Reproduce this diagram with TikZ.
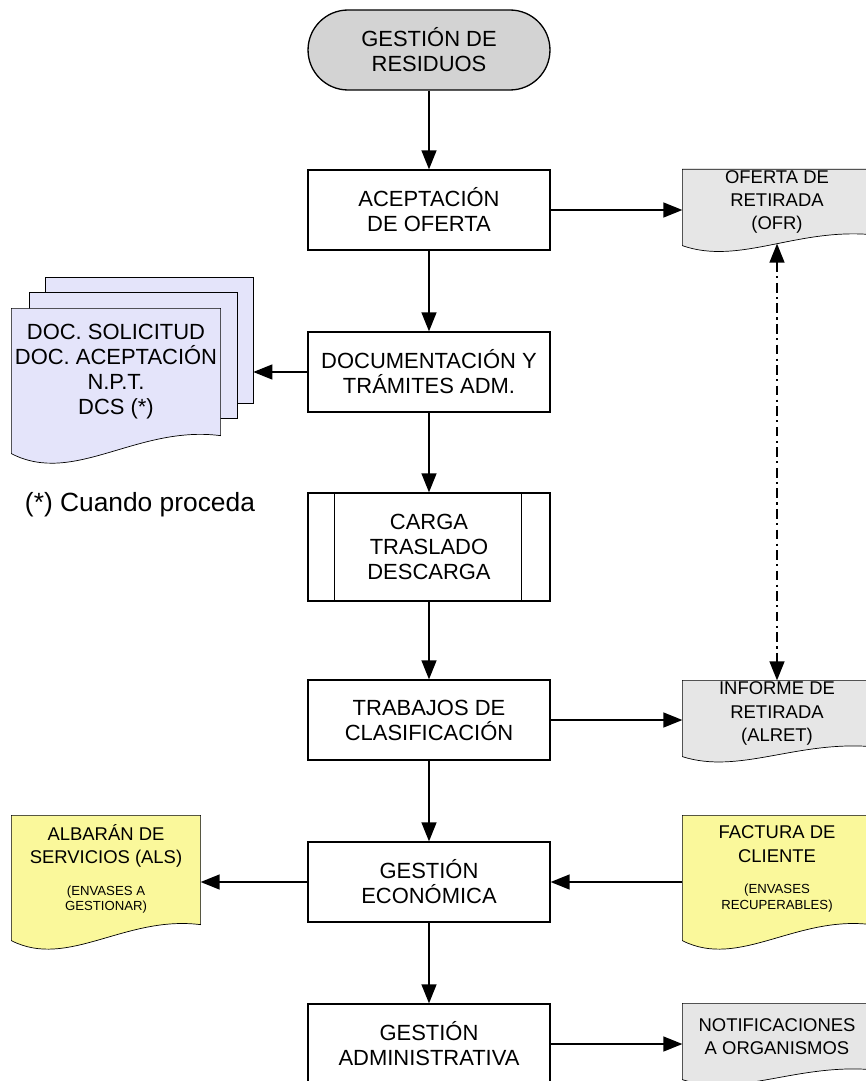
\documentclass[tikz,border=0pt]{standalone}
\usepackage{fontspec}
\setmainfont{Liberation Sans}
\usetikzlibrary{arrows.meta,calc,backgrounds,positioning}

\definecolor{termgray}{RGB}{211,211,211}
\definecolor{docgray}{RGB}{230,230,230}
\definecolor{doclav}{RGB}{228,228,250}
\definecolor{docyel}{RGB}{250,248,155}

% wavy document outline round a node, #2 = depth of the wave
\newcommand{\docoutline}[3]{%
	\draw[fill=#3] (#1.north west) -- (#1.north east) -- (#1.south east)
		.. controls ($(#1.south west)!0.6!(#1.south east)+(0,-0.6*#2)$)
		and ($(#1.south west)!0.3!(#1.south east)+(0,2.8*#2)$) .. ($(#1.south west)+(0,#2)$)
		-- cycle;}
% small lines inside a document
\newcommand{\smalllines}[1]{{\fontsize{7.5}{9}\selectfont\begin{tabular}{@{}c@{}}#1\end{tabular}}}

\begin{document}
\begin{tikzpicture}[x=0.02cm,y=-0.02cm,line width=0.75pt,
		every node/.style={font=\fontsize{12.5}{14.2}\selectfont, align=center, inner sep=0pt},
		flowbox/.style={draw, fill=white, minimum width=4.84cm, minimum height=1.6cm},
		doc/.style={minimum width=3.76cm, font=\fontsize{10.5}{13.3}\selectfont},
		page/.style={draw, fill=doclav, minimum width=4.16cm, minimum height=2.52cm},
		arr/.style={-{Triangle[length=0.38cm,width=0.3cm]}},
		dashdot/.style={{Triangle[length=0.38cm,width=0.3cm]}-{Triangle[length=0.38cm,width=0.3cm]},
			dash pattern=on 5.5pt off 2.5pt on 1.2pt off 2.5pt}]
	\useasboundingbox (0,0) rectangle (865,1081);
	\clip (0,0) rectangle (865,1081);

	% main column
	\node[flowbox, fill=termgray, rounded corners=0.8cm] (inicio) at (429,50) {GESTIÓN DE\\RESIDUOS};
	\node[flowbox] (oferta) at (429,210) {ACEPTACIÓN\\DE OFERTA};
	\node[flowbox] (docum) at (429,372) {DOCUMENTACIÓN Y\\TRÁMITES ADM.};
	\node[flowbox, minimum height=2.16cm] (carga) at (429,547) {CARGA\\TRASLADO\\DESCARGA};
	\draw ([xshift=0.54cm]carga.north west) -- ([xshift=0.54cm]carga.south west)
		([xshift=-0.58cm]carga.north east) -- ([xshift=-0.58cm]carga.south east);
	\node[flowbox] (clasif) at (429,720) {TRABAJOS DE\\CLASIFICACIÓN};
	\node[flowbox] (econ) at (429,882) {GESTIÓN\\ECONÓMICA};
	\node[flowbox] (admin) at (429,1044) {GESTIÓN\\ADMINISTRATIVA};

	% documents
	\node[doc, minimum height=1.28cm] (ofr) at (777,202) {OFERTA DE\\RETIRADA\\(OFR)};
	\node[doc, minimum height=1.3cm] (informe) at (777,713.5) {INFORME DE\\RETIRADA\\(ALRET)};
	\node[doc, minimum height=2.16cm] (albaran) at (106,870)
		{ALBARÁN DE\\SERVICIOS (ALS)\\[9pt]\smalllines{(ENVASES A\\GESTIONAR)}};
	\node[doc, minimum height=2.16cm] (factura) at (777,870)
		{FACTURA DE\\CLIENTE\\[9pt]\smalllines{(ENVASES\\RECUPERABLES)}};
	\node[doc, minimum height=1.3cm] (notif) at (777,1036.5) {NOTIFICACIONES\\A ORGANISMOS};
	\node[minimum width=4.16cm, minimum height=2.52cm] (docsfront) at (116,372)
		{DOC. SOLICITUD\\DOC. ACEPTACIÓN\\N.P.T.\\DCS (*)};
	\node[font=\fontsize{15}{18}\selectfont] (nota) at (140,505) {(*) Cuando proceda};

	\begin{scope}[on background layer]
		\node[page] (docsback) at (149,340.5) {};
		\node[page] (docsmid) at (133,355.5) {};
		\docoutline{docsfront}{18}{doclav}
		\docoutline{ofr}{11}{docgray}
		\docoutline{informe}{10}{docgray}
		\docoutline{albaran}{16}{docyel}
		\docoutline{factura}{16}{docyel}
		\docoutline{notif}{10}{docgray}
	\end{scope}

	% connectors
	\draw[arr] (inicio) -- (oferta);
	\draw[arr] (oferta) -- (docum);
	\draw[arr] (docum) -- (carga);
	\draw[arr] (carga) -- (clasif);
	\draw[arr] (clasif) -- (econ);
	\draw[arr] (econ) -- (admin);
	\draw[arr] (oferta.east) -- (oferta.east -| ofr.west);
	\draw[arr] (docum.west) -- (docum.west -| docsback.east);
	\draw[arr] (clasif.east) -- (clasif.east -| informe.west);
	\draw[arr] (econ.west) -- (econ.west -| albaran.east);
	\draw[arr] (econ.east -| factura.west) -- (econ.east);
	\draw[arr] (admin.east) -- (admin.east -| notif.west);
	\draw[dashdot] ($(ofr.south)+(0,9)$) -- (informe.north);
\end{tikzpicture}
\end{document}
